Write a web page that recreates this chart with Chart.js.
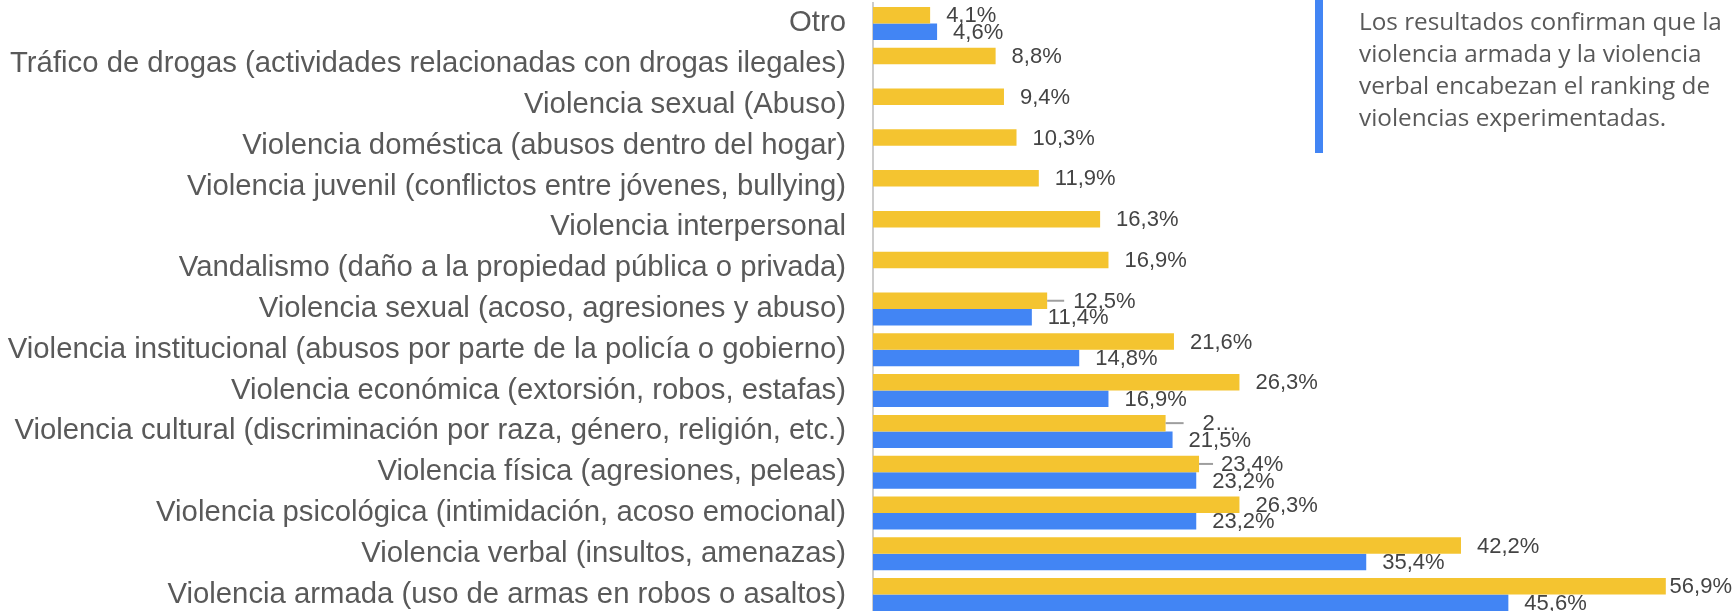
<!DOCTYPE html>
<html lang="es">
<head>
<meta charset="utf-8">
<script src="https://cdn.jsdelivr.net/npm/chart.js@4"></script>
<style>
  html, body { margin: 0; padding: 0; background: #ffffff; overflow: hidden; }
  body { width: 1734px; height: 611px; position: relative; }
  #wrap { position: absolute; left: 0; top: 0; width: 1734px; height: 616px; }
  #note {
    position: absolute; left: 1315px; top: 0; height: 153px;
    border-left: 8px solid #4285f4; padding: 5px 0 0 36px; box-sizing: border-box;
    font-family: "Open Sans", sans-serif; font-size: 24.3px; line-height: 32px;
    color: #595959; white-space: nowrap;
  }
</style>
</head>
<body>
<div id="wrap"><canvas id="violenceChart"></canvas></div>
<div id="note">Los resultados confirman que la<br>violencia armada y la violencia<br>verbal encabezan el ranking de<br>violencias experimentadas.</div>
<script>
const categories = [
  "Otro",
  "Tráfico de drogas (actividades relacionadas con drogas ilegales)",
  "Violencia sexual (Abuso)",
  "Violencia doméstica (abusos dentro del hogar)",
  "Violencia juvenil (conflictos entre jóvenes, bullying)",
  "Violencia interpersonal",
  "Vandalismo (daño a la propiedad pública o privada)",
  "Violencia sexual (acoso, agresiones y abuso)",
  "Violencia institucional (abusos por parte de la policía o gobierno)",
  "Violencia económica (extorsión, robos, estafas)",
  "Violencia cultural (discriminación por raza, género, religión, etc.)",
  "Violencia física (agresiones, peleas)",
  "Violencia psicológica (intimidación, acoso emocional)",
  "Violencia verbal (insultos, amenazas)",
  "Violencia armada (uso de armas en robos o asaltos)"
];
const yellowValues = [4.1, 8.8, 9.4, 10.3, 11.9, 16.3, 16.9, 12.5, 21.6, 26.3, 21.0, 23.4, 26.3, 42.2, 56.9];
const blueValues   = [4.6, null, null, null, null, null, null, 11.4, 14.8, 16.9, 21.5, 23.2, 23.2, 35.4, 45.6];

// labels pushed aside by a neighbour: leader line length and label offset
const shifted = { 7: [17, 26], 10: [18, 37], 11: [14, 22] };
const truncated = { 10: "2…" };

const fmt = v => v.toFixed(1).replace(".", ",") + "%";

const valueLabels = {
  id: "valueLabels",
  afterDatasetsDraw(chart) {
    const ctx = chart.ctx;
    ctx.save();
    ctx.font = "22px 'Liberation Sans', Arial, sans-serif";
    ctx.fillStyle = "#444444";
    ctx.textBaseline = "middle";
    ctx.textAlign = "left";
    chart.data.datasets.forEach((ds, di) => {
      chart.getDatasetMeta(di).data.forEach((bar, i) => {
        const v = ds.data[i];
        if (v == null) return;
        let text = fmt(v);
        let x = bar.x + 16;
        if (di === 0 && shifted[i]) {
          const [len, off] = shifted[i];
          ctx.strokeStyle = "#9e9e9e";
          ctx.lineWidth = 2;
          ctx.beginPath();
          ctx.moveTo(bar.x, bar.y);
          ctx.lineTo(bar.x + len, bar.y);
          ctx.stroke();
          x = bar.x + off;
          if (truncated[i]) text = truncated[i];
        }
        const w = ctx.measureText(text).width;
        x = Math.min(x, chart.width - w - 2);
        ctx.fillText(text, x, bar.y + 1);
      });
    });
    ctx.restore();
  }
};

new Chart(document.getElementById("violenceChart"), {
  type: "bar",
  data: {
    labels: categories,
    datasets: [
      { data: yellowValues, backgroundColor: "#f4c430", borderWidth: 0 },
      { data: blueValues, backgroundColor: "#4285f4", borderWidth: 0 }
    ]
  },
  options: {
    indexAxis: "y",
    responsive: true, maintainAspectRatio: false,
    animation: false,
    categoryPercentage: 0.81, barPercentage: 1,
    layout: { padding: { top: 3, bottom: 1, right: 25, left: 0 } },
    plugins: { legend: { display: false }, tooltip: { enabled: false } },
    scales: {
      x: { min: 0, max: 60, display: false },
      y: {
        grid: { display: false, tickLength: 0 },
        border: { display: true, color: "#cccccc", width: 2 },
        ticks: { color: "#595959", padding: 27, autoSkip: false, font: { family: "'Liberation Sans', Arial, sans-serif", size: 29.3 } },
        afterFit: s => { s.width = 873; s.paddingTop = 0; s.paddingBottom = 0; }
      }
    }
  },
  plugins: [valueLabels]
});
</script>
</body>
</html>
